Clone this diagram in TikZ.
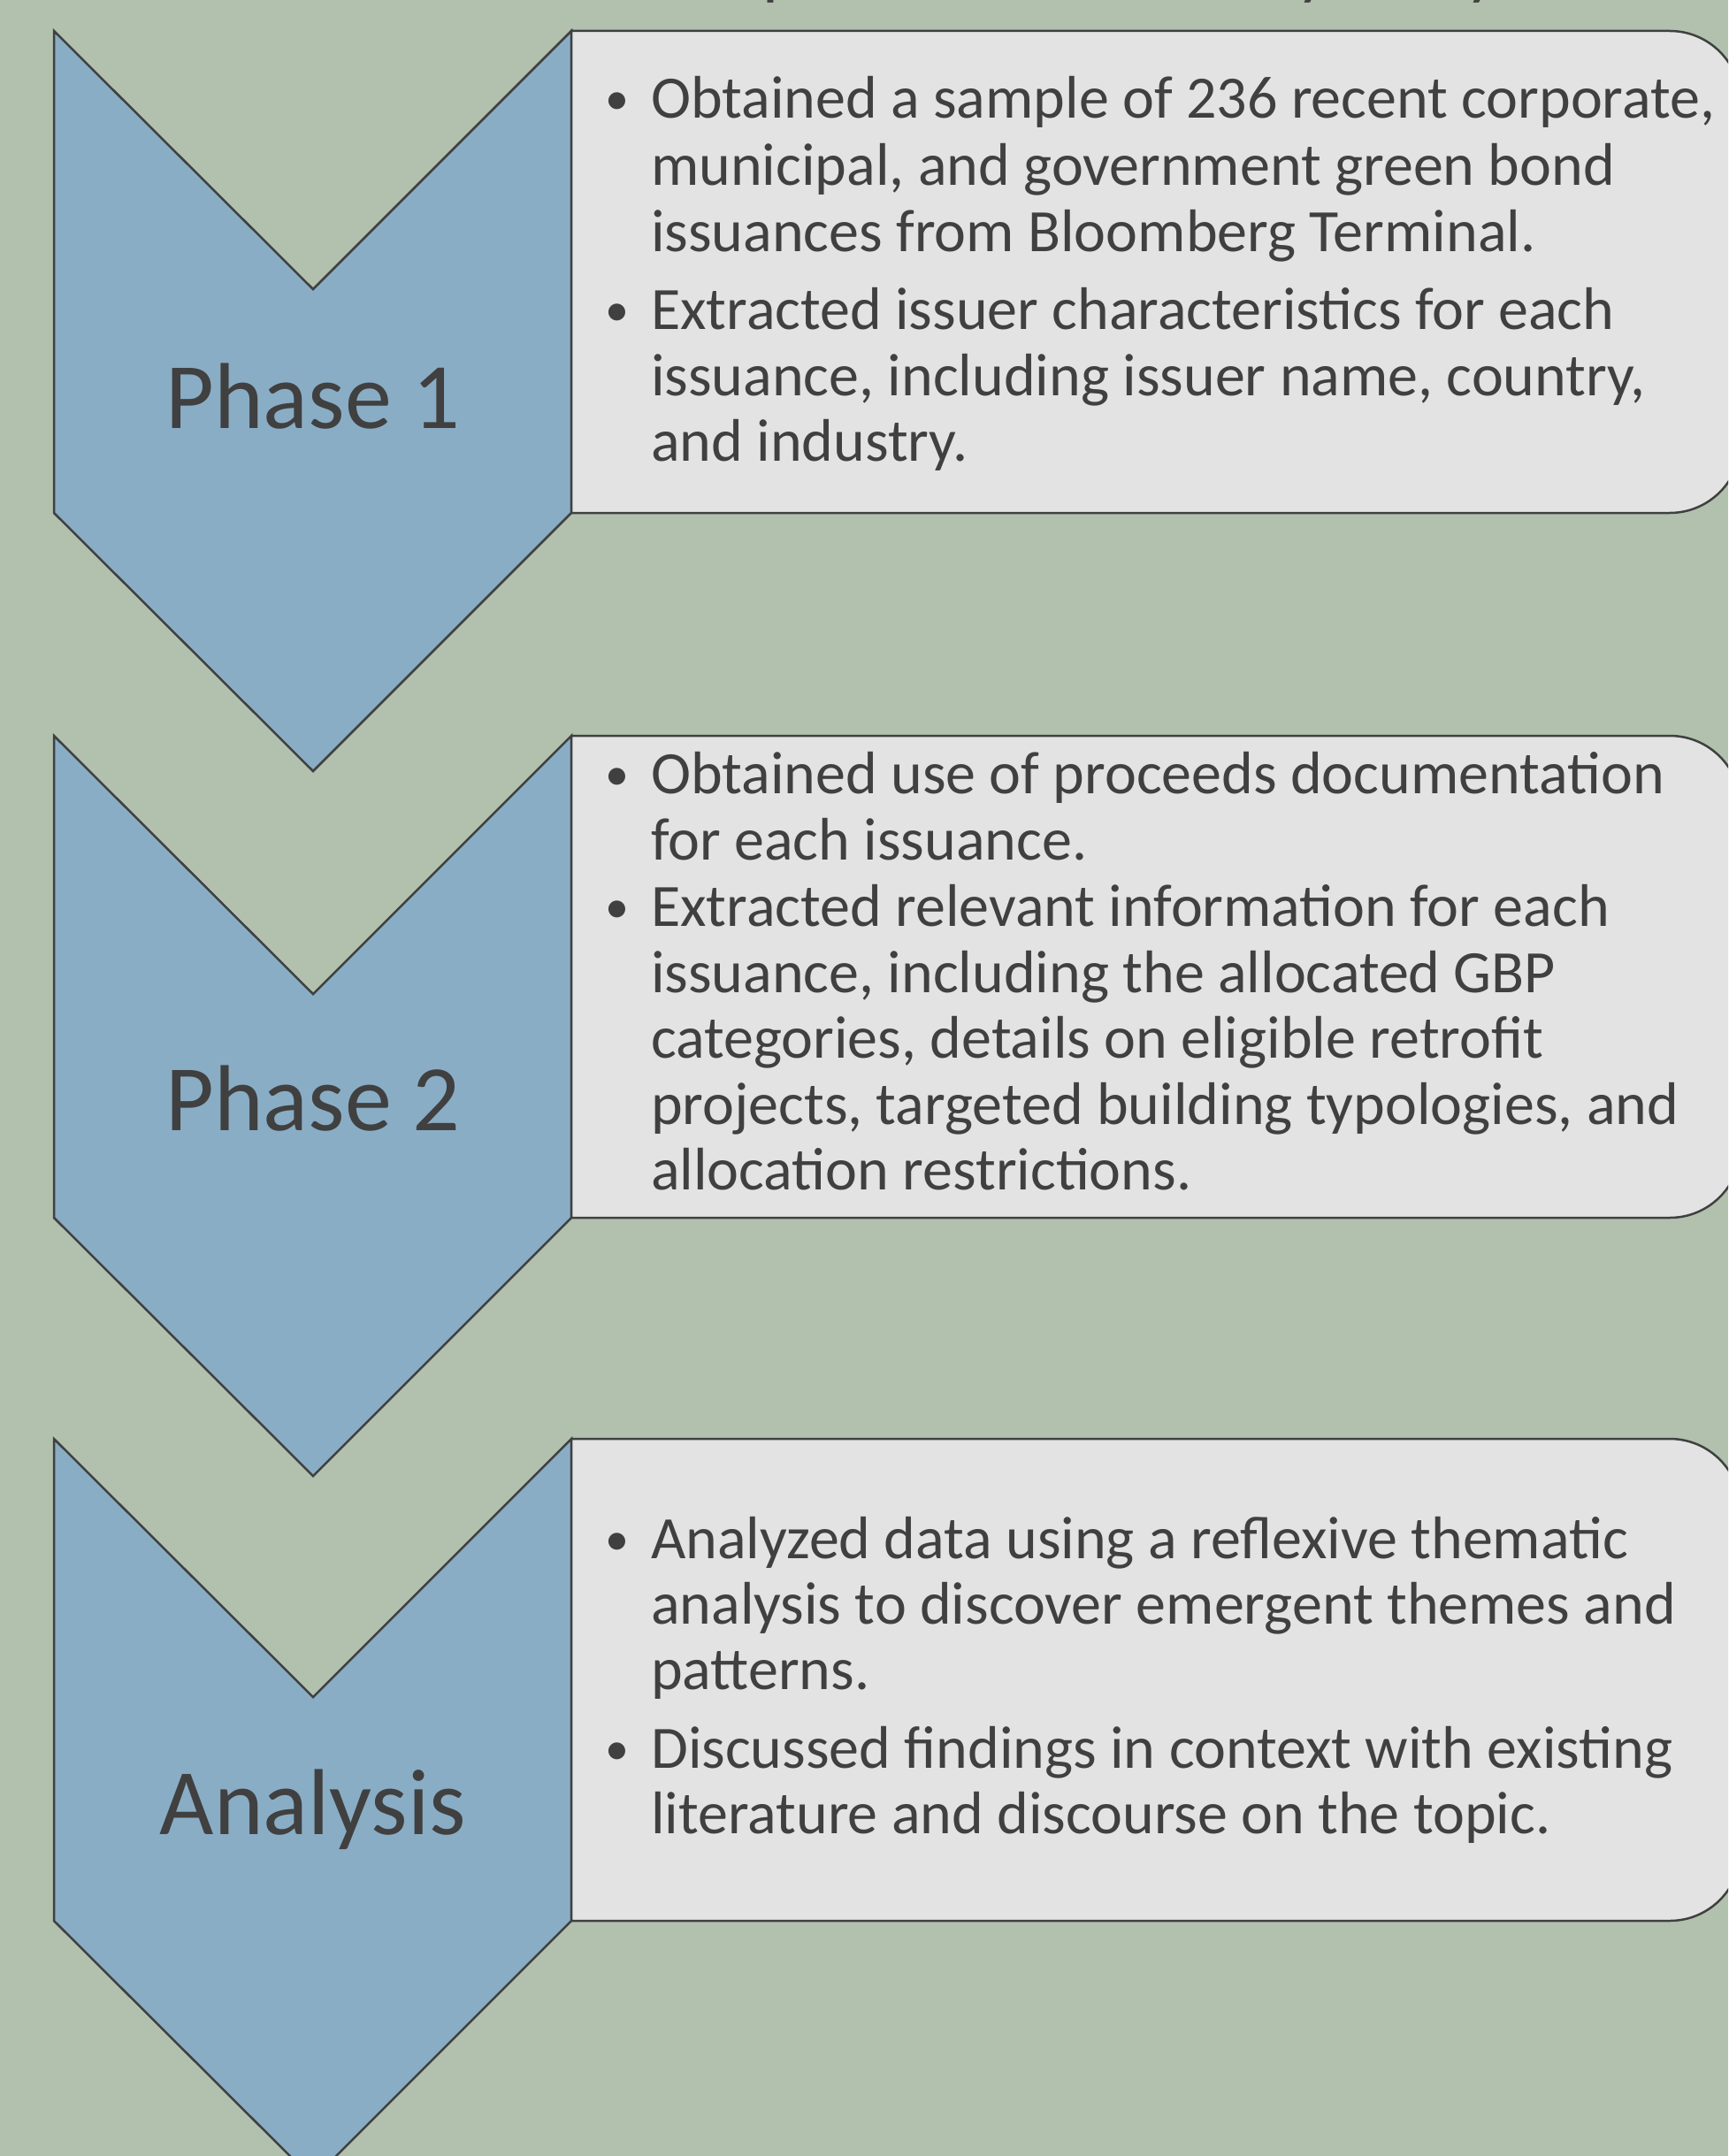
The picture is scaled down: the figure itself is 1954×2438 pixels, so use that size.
\documentclass[tikz,border=0pt]{standalone}
\usepackage{fontspec}
\setmainfont{Carlito}
\definecolor{bg}{RGB}{177,193,173}
\definecolor{chevblue}{RGB}{138,173,198}
\definecolor{cardgray}{RGB}{227,227,227}
\definecolor{edge}{RGB}{64,64,64}
\definecolor{ink}{RGB}{64,64,64}
\begin{document}
\begin{tikzpicture}[x=1pt,y=1pt,
  chev/.style={fill=chevblue,draw=edge,line width=2.5pt,line join=miter},
  card/.style={fill=cardgray,draw=edge,line width=2.5pt},
  phase/.style={font=\fontsize{106}{112}\selectfont,text=ink,anchor=base,inner sep=0pt},
  txt/.style={font=\fontsize{68}{75}\selectfont,text=ink,anchor=base west,inner sep=0pt},
  dot/.style={font=\fontsize{54}{60}\selectfont,text=ink,anchor=base,inner sep=0pt,yshift=4pt},
  head/.style={font=\fontsize{80}{88}\selectfont,text=ink,anchor=base west,inner sep=0pt}]
\useasboundingbox (0,0) rectangle (1954,-2438);
\clip (0,0) rectangle (1954,-2438);
\fill[bg] (0,0) rectangle (1954,-2438);

% heading line above the top edge: only its descenders reach the page
\node[head] (heading) at (862,9) {phases, followed by analysis};

% ---- step 1 ----
\draw[chev] (61,-35) -- (354,-327) -- (646,-35) -- (646,-580) -- (354,-872) -- (61,-580) -- cycle;
\draw[card] (646,-35) -- (1888,-35) arc[start angle=90,end angle=0,radius=80]
  -- (1968,-500) arc[start angle=0,end angle=-90,radius=80] -- (646,-580) -- cycle;
\node[phase] (p1) at (354,-484) {Phase 1};
\node[dot] (b11) at (698,-134) {•};
\node[txt] (l11) at (736,-134) {Obtained a sample of 236 recent corporate,};
\node[txt] (l12) at (736,-209) {municipal, and government green bond};
\node[txt] (l13) at (736,-284) {issuances from Bloomberg Terminal.};
\node[dot] (b12) at (698,-372) {•};
\node[txt] (l14) at (736,-372) {Extracted issuer characteristics for each};
\node[txt] (l15) at (736,-447) {issuance, including issuer name, country,};
\node[txt] (l16) at (736,-521) {and industry.};

% ---- step 2 ----
\draw[chev] (61,-832) -- (354,-1124) -- (646,-832) -- (646,-1377) -- (354,-1669) -- (61,-1377) -- cycle;
\draw[card] (646,-832) -- (1888,-832) arc[start angle=90,end angle=0,radius=80]
  -- (1968,-1297) arc[start angle=0,end angle=-90,radius=80] -- (646,-1377) -- cycle;
\node[phase] (p2) at (354,-1278) {Phase 2};
\node[dot] (b21) at (698,-897) {•};
\node[txt] (l21) at (736,-897) {Obtained use of proceeds documentation};
\node[txt] (l22) at (736,-972) {for each issuance.};
\node[dot] (b22) at (698,-1047) {•};
\node[txt] (l23) at (736,-1047) {Extracted relevant information for each};
\node[txt] (l24) at (736,-1122) {issuance, including the allocated GBP};
\node[txt] (l25) at (736,-1196) {categories, details on eligible retrofit};
\node[txt] (l26) at (736,-1271) {projects, targeted building typologies, and};
\node[txt] (l27) at (736,-1345) {allocation restrictions.};

% ---- step 3 ----
\draw[chev] (61,-1627) -- (354,-1919) -- (646,-1627) -- (646,-2172) -- (354,-2464) -- (61,-2172) -- cycle;
\draw[card] (646,-1627) -- (1888,-1627) arc[start angle=90,end angle=0,radius=80]
  -- (1968,-2092) arc[start angle=0,end angle=-90,radius=80] -- (646,-2172) -- cycle;
\node[phase] (p3) at (354,-2074) {Analysis};
\node[dot] (b31) at (698,-1762) {•};
\node[txt] (l31) at (736,-1762) {Analyzed data using a reflexive thematic};
\node[txt] (l32) at (736,-1836) {analysis to discover emergent themes and};
\node[txt] (l33) at (736,-1910) {patterns.};
\node[dot] (b32) at (698,-1999) {•};
\node[txt] (l34) at (736,-1999) {Discussed findings in context with existing};
\node[txt] (l35) at (736,-2073) {literature and discourse on the topic.};
\end{tikzpicture}
\end{document}
